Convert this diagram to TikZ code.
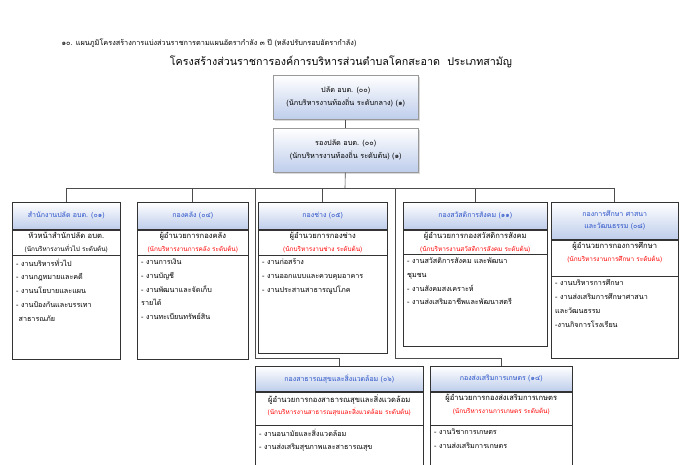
\documentclass[tikz,border=0pt]{standalone}
\usepackage{fontspec}
\newfontfamily\thai[Script=Thai]{Loma}
\newfontfamily\thaib[Script=Thai,AutoFakeBold=2]{Loma}
\definecolor{hdrblue}{RGB}{40,80,200}
\definecolor{hdrfill}{RGB}{190,205,235}
\usetikzlibrary{shadows}
\tikzset{
  frame/.style={draw=black!80,line width=0.5pt,anchor=north west,inner sep=0pt},
  hdr/.style={frame,top color=white,bottom color=hdrfill,align=center,text=hdrblue,font=\thaib\fontsize{7}{12}\selectfont},
  topbox/.style={hdr,text=black,draw=black!40,drop shadow={opacity=0.3},font=\thaib\fontsize{7.3}{13}\selectfont},
  subtext/.style={anchor=north,align=center,font=\thai\fontsize{7.6}{12.5}\selectfont,inner sep=2.5pt},
  listtext/.style={anchor=north west,align=left,font=\thai\fontsize{7.2}{13.8}\selectfont,inner xsep=4pt,inner ysep=3.5pt},
  link/.style={draw=black!70,line width=0.6pt}
}
\newcommand{\rank}[1]{{\color{red}\fontsize{6.4}{12}\selectfont #1}}
% one division: name, position, width, header h, sub h, list h, header, sub, list
\newcommand{\division}[9]{
  \node[hdr,minimum width=#3pt,minimum height=#4pt] (#1-h) at (#2) {#7};
  \node[frame,minimum width=#3pt,minimum height=#5pt] (#1-s) at (#1-h.south west) {};
  \node[subtext] at (#1-s.north) {#8};
  \node[frame,minimum width=#3pt,minimum height=#6pt] (#1-l) at (#1-s.south west) {};
  \node[listtext] at (#1-l.north west) {#9};
}
\begin{document}
\begin{tikzpicture}[x=1pt,y=-1pt]
  \useasboundingbox (0,0) rectangle (696,464);
  % titles
  \node[anchor=west,font=\thaib\fontsize{7.3}{8}\selectfont] (title) at (58,43)
    {๑๐. แผนภูมิโครงสร้างการแบ่งส่วนราชการตามแผนอัตรากำลัง ๓ ปี (หลังปรับกรอบอัตรากำลัง)};
  \node[font=\thai\fontsize{10.7}{12}\selectfont] (maintitle) at (341,62)
    {โครงสร้างส่วนราชการองค์การบริหารส่วนตำบลโคกสะอาด\ \ ประเภทสามัญ};
  % top boxes
  \node[topbox,minimum width=145pt,minimum height=44pt] (palad) at (273,75)
    {ปลัด อบต. (๐๐)\\(นักบริหารงานท้องถิ่น ระดับกลาง) (๑)};
  \node[topbox,minimum width=145pt,minimum height=44pt] (rong) at (273,128)
    {รองปลัด อบต. (๐๐)\\(นักบริหารงานท้องถิ่น ระดับต้น) (๑)};
  % divisions
  \division{d1}{12,202}{108}{27}{25}{104}{สำนักงานปลัด อบต. (๐๑)}
    {หัวหน้าสำนักปลัด อบต.\\{\fontsize{6.4}{12}\selectfont (นักบริหารงานทั่วไป ระดับต้น)}}
    {- งานบริหารทั่วไป\\- งานกฎหมายและคดี\\- งานนโยบายและแผน\\- งานป้องกันและบรรเทา\\\ สาธารณภัย}
  \division{d2}{137,202}{111}{27}{25}{104}{กองคลัง (๐๔)}
    {ผู้อำนวยการกองคลัง\\\rank{(นักบริหารงานการคลัง ระดับต้น)}}
    {- งานการเงิน\\- งานบัญชี\\- งานพัฒนาและจัดเก็บ\\รายได้\\- งานทะเบียนทรัพย์สิน}
  \division{d3}{258,202}{129}{27}{25}{98}{กองช่าง (๐๕)}
    {ผู้อำนวยการกองช่าง\\\rank{(นักบริหารงานช่าง ระดับต้น)}}
    {- งานก่อสร้าง\\- งานออกแบบและควบคุมอาคาร\\- งานประสานสาธารณูปโภค}
  \division{d4}{403,202}{144}{27}{24}{92}{กองสวัสดิการสังคม (๑๑)}
    {ผู้อำนวยการกองสวัสดิการสังคม\\\rank{(นักบริหารงานสวัสดิการสังคม ระดับต้น)}}
    {- งานสวัสดิการสังคม และพัฒนา\\ชุมชน\\- งานสังคมสงเคราะห์\\- งานส่งเสริมอาชีพและพัฒนาสตรี}
  \division{d5}{551,202}{127}{37}{36}{82}{กองการศึกษา ศาสนา\\และวัฒนธรรม (๐๘)}
    {ผู้อำนวยการกองการศึกษา\\\rank{(นักบริหารงานการศึกษา ระดับต้น)}}
    {- งานบริหารการศึกษา\\- งานส่งเสริมการศึกษาศาสนา\\และวัฒนธรรม\\-งานกิจการโรงเรียน}
  \division{d6}{255,366}{168}{25}{33}{60}{กองสาธารณสุขและสิ่งแวดล้อม (๐๖)}
    {ผู้อำนวยการกองสาธารณสุขและสิ่งแวดล้อม\\\rank{(นักบริหารงานสาธารณสุขและสิ่งแวดล้อม ระดับต้น)}}
    {- งานอนามัยและสิ่งแวดล้อม\\- งานส่งเสริมสุขภาพและสาธารณสุข}
  \division{d7}{430,366}{142}{25}{33}{60}{กองส่งเสริมการเกษตร (๑๔)}
    {ผู้อำนวยการกองส่งเสริมการเกษตร\\\rank{(นักบริหารงานการเกษตร ระดับต้น)}}
    {- งานวิชาการเกษตร\\- งานส่งเสริมการเกษตร}
  % connectors
  \coordinate (bar) at (345,188);
  \draw[link] (palad) -- (rong);
  \draw[link] (rong) -- (bar);
  \draw[link] (d1-h.north |- bar) -- (d5-h.north |- bar);
  \foreach \d in {d1,d2,d3,d4,d5}
    \draw[link] (\d-h.north |- bar) -- (\d-h.north);
  \coordinate (j6) at (255,358);
  \coordinate (j7) at (395,358);
  \draw[link] (j6 |- bar) -- (j6) -| (d6-h.north);
  \draw[link] (j7 |- bar) -- (j7) -| (d7-h.north);
\end{tikzpicture}
\end{document}
